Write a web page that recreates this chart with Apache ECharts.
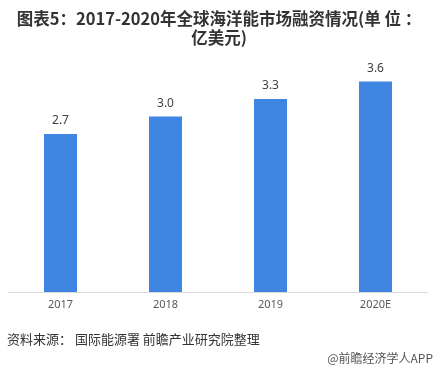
<!DOCTYPE html>
<html><head><meta charset="utf-8">
<script src="https://cdn.jsdelivr.net/npm/echarts@6/dist/echarts.min.js"></script>
<style>html,body{margin:0;padding:0;background:#fff}#c{width:438px;height:375px}</style>
</head><body><div id="c"></div>
<script>
const categories = ['2017', '2018', '2019', '2020E'];
const values = [2.7, 3.0, 3.3, 3.6];
const titleText = '图表5：2017-2020年全球海洋能市场融资情况(单 位 ：\n亿美元)';
const sourceText = '资料来源： 国际能源署 前瞻产业研究院整理';
const brandText = '@前瞻经济学人APP';

const chart = echarts.init(document.getElementById('c'));
chart.setOption({
  animation: false,
  title: {
    text: titleText, left: 'center', top: 4,
    textStyle: {fontSize: 16.5, fontWeight: 'bold', color: '#333', lineHeight: 19, fontFamily: 'Noto Sans CJK SC'}
  },
  graphic: [
    {type: 'text', left: 7, top: 333, style: {text: sourceText, fontSize: 13, fill: '#333', fontFamily: 'Noto Sans CJK SC'}},
    {type: 'text', right: 5, top: 352, style: {text: brandText, fontSize: 12, fill: '#555', fontFamily: 'Noto Sans CJK SC'}}
  ],
  grid: {left: 8, right: 10, top: 58, bottom: 83},
  xAxis: {
    type: 'category', data: categories,
    axisLine: {lineStyle: {color: '#d9d9d9'}},
    axisTick: {show: false},
    axisLabel: {color: '#595959', fontSize: 11, margin: 7, fontFamily: 'Noto Sans'}
  },
  yAxis: {type: 'value', min: 0, max: 4, show: false, splitLine: {show: false}},
  series: [{
    type: 'bar', data: values, barWidth: 33,
    itemStyle: {color: '#3F86E3'},
    label: {show: true, position: 'top', distance: 7, color: '#404040', fontSize: 12, fontFamily: 'Noto Sans',
      formatter: p => p.value.toFixed(1)}
  }]
});
</script></body></html>
